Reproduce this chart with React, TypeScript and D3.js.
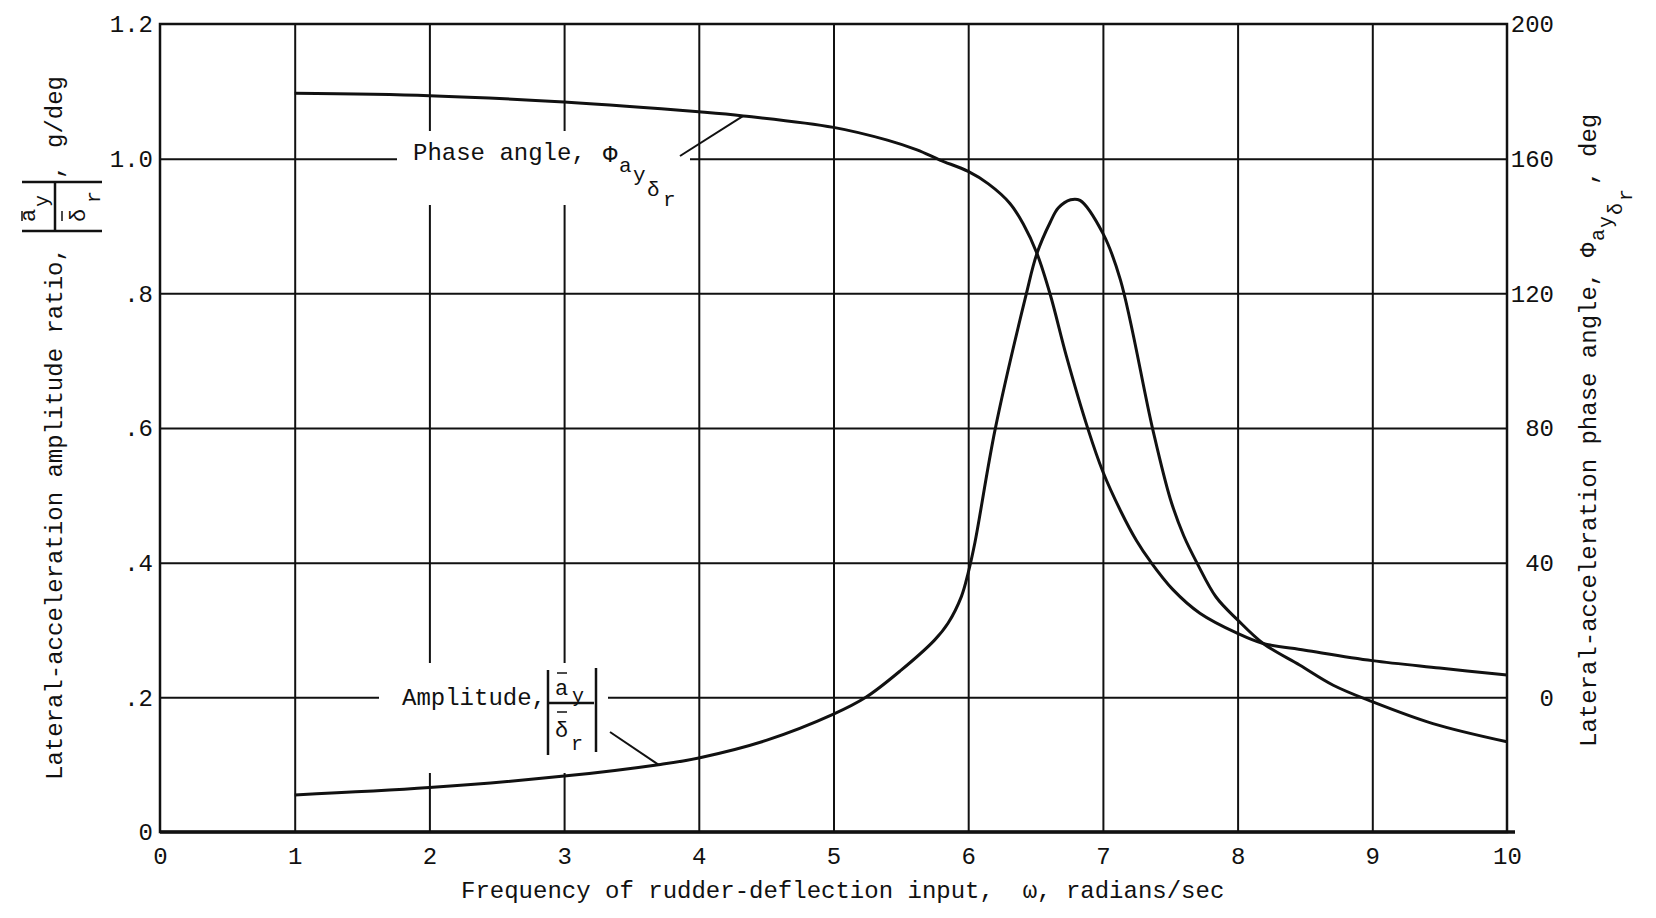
import { useEffect, useRef } from 'react';
import * as d3 from 'd3';

// frequency of rudder-deflection input, radians/sec
const omegaTicks = [0, 1, 2, 3, 4, 5, 6, 7, 8, 9, 10];
const ampTicks = [0, 0.2, 0.4, 0.6, 0.8, 1.0, 1.2];
const ampTickLabels = ['0', '.2', '.4', '.6', '.8', '1.0', '1.2'];
const phaseTicks = [0, 40, 80, 120, 160, 200];

// amplitude ratio |ay/dr|, g/deg
const ampOmega = [1, 2, 3, 3.7, 4, 4.5, 5, 5.24, 5.5, 5.75, 5.85, 5.95, 6.0, 6.05, 6.2, 6.43, 6.51, 6.61, 6.67, 6.76, 6.83, 7.0, 7.13, 7.37, 7.5, 7.6, 7.7, 7.84, 8.0, 8.19, 8.46, 8.71, 9.0, 9.45, 10];
const ampValues = [0.055, 0.066, 0.083, 0.1, 0.11, 0.136, 0.175, 0.2, 0.24, 0.285, 0.31, 0.35, 0.385, 0.43, 0.598, 0.798, 0.859, 0.906, 0.927, 0.939, 0.938, 0.889, 0.82, 0.598, 0.495, 0.44, 0.399, 0.349, 0.315, 0.28, 0.248, 0.218, 0.1935, 0.161, 0.134];

// phase angle, deg
const phaseOmega = [1, 2, 3, 4, 4.33, 5, 5.4, 5.62, 5.79, 6.0, 6.15, 6.31, 6.41, 6.51, 6.61, 6.73, 6.89, 7.0, 7.13, 7.25, 7.35, 7.52, 7.72, 8.0, 8.19, 8.5, 9.0, 9.5, 10];
const phaseValues = [179.4, 178.7, 176.8, 173.9, 172.7, 169.3, 165.5, 162.6, 159.6, 156.2, 152.5, 146.7, 140.5, 131.9, 119.5, 101.2, 79.6, 67, 55.5, 46.5, 40.5, 32.0, 25.0, 19.0, 16.0, 14.0, 10.9, 8.7, 6.6];

export default function App() {
  const svgRef = useRef<SVGSVGElement>(null);

  useEffect(() => {
    if (!svgRef.current) return;

    const svg = d3.select(svgRef.current);
    svg.selectAll('*').remove();

    const width = 1656;
    const height = 918;
    const margin = { top: 24, right: 149, bottom: 86, left: 160 };
    const font = '"Liberation Mono", "DejaVu Sans Mono", monospace';
    const ink = '#111';
    const fs = 24;

    svg.attr('width', width).attr('height', height);
    svg.append('rect').attr('width', width).attr('height', height).attr('fill', '#fff');

    const x = d3.scaleLinear().domain([0, 10]).range([margin.left, width - margin.right]);
    const yAmp = d3.scaleLinear().domain([0, 1.2]).range([height - margin.bottom, margin.top]);
    const yPhase = d3.scaleLinear().domain([-40, 200]).range([height - margin.bottom, margin.top]);
    const plotH = height - margin.top - margin.bottom;
    const plotW = width - margin.left - margin.right;

    // grid
    svg
      .append('g')
      .attr('transform', `translate(0,${height - margin.bottom})`)
      .call(d3.axisBottom(x).tickValues(omegaTicks.slice(1, -1)).tickSize(-plotH).tickFormat(() => ''))
      .call((g) => g.select('.domain').remove())
      .selectAll('line')
      .attr('stroke', ink)
      .attr('stroke-width', 2);

    svg
      .append('g')
      .attr('transform', `translate(${margin.left},0)`)
      .call(d3.axisLeft(yAmp).tickValues(ampTicks.slice(1, -1)).tickSize(-plotW).tickFormat(() => ''))
      .call((g) => g.select('.domain').remove())
      .selectAll('line')
      .attr('stroke', ink)
      .attr('stroke-width', 2);

    // gaps in the grid behind the curve labels
    svg.append('rect').attr('x', 397).attr('y', 131).attr('width', 293).attr('height', 74).attr('fill', '#fff');
    svg.append('rect').attr('x', 379).attr('y', 663).attr('width', 229).attr('height', 110).attr('fill', '#fff');

    // curves
    const ampLine = d3
      .line<number>()
      .x((d, i) => x(ampOmega[i]))
      .y((d) => yAmp(d))
      .curve(d3.curveCatmullRom.alpha(0.5));
    const phaseLine = d3
      .line<number>()
      .x((d, i) => x(phaseOmega[i]))
      .y((d) => yPhase(d))
      .curve(d3.curveCatmullRom.alpha(0.5));

    svg.append('path').datum(ampValues).attr('fill', 'none').attr('stroke', ink).attr('stroke-width', 3).attr('d', ampLine);
    svg.append('path').datum(phaseValues).attr('fill', 'none').attr('stroke', ink).attr('stroke-width', 3).attr('d', phaseLine);

    // frame
    svg
      .append('rect')
      .attr('x', x(0))
      .attr('y', yAmp(1.2))
      .attr('width', plotW)
      .attr('height', plotH)
      .attr('fill', 'none')
      .attr('stroke', ink)
      .attr('stroke-width', 2.5);
    svg.append('line').attr('x1', x(0)).attr('x2', x(10) + 8).attr('y1', yAmp(0)).attr('y2', yAmp(0)).attr('stroke', ink).attr('stroke-width', 3.5);

    // tick labels
    const left = svg
      .append('g')
      .attr('transform', `translate(${margin.left},0)`)
      .call(d3.axisLeft(yAmp).tickValues(ampTicks).tickSize(0).tickPadding(7).tickFormat((d, i) => ampTickLabels[i]));
    left.select('.domain').remove();
    left.selectAll('text').attr('font-family', font).attr('font-size', fs).attr('fill', ink);

    const right = svg
      .append('g')
      .attr('transform', `translate(${width - margin.right},0)`)
      .call(d3.axisRight(yPhase).tickValues(phaseTicks).tickSize(0).tickPadding(47));
    right.select('.domain').remove();
    right.selectAll('text').attr('font-family', font).attr('font-size', fs).attr('fill', ink).attr('text-anchor', 'end');

    const bottom = svg
      .append('g')
      .attr('transform', `translate(0,${height - margin.bottom})`)
      .call(d3.axisBottom(x).tickValues(omegaTicks).tickSize(0).tickPadding(15));
    bottom.select('.domain').remove();
    bottom.selectAll('text').attr('font-family', font).attr('font-size', fs).attr('fill', ink);

    const txt = (g: any, s: string, tx: number, ty: number, size = fs) =>
      g
        .append('text')
        .attr('x', tx)
        .attr('y', ty)
        .attr('font-family', font)
        .attr('font-size', size)
        .attr('fill', ink)
        .style('white-space', 'pre')
        .text(s);
    const seg = (g: any, x1: number, y1: number, x2: number, y2: number, w = 2) =>
      g.append('line').attr('x1', x1).attr('y1', y1).attr('x2', x2).attr('y2', y2).attr('stroke', ink).attr('stroke-width', w);

    txt(svg, 'Frequency of rudder-deflection input,  \u03c9, radians/sec', 461, 898);

    // phase label
    txt(svg, 'Phase angle,', 413, 160);
    txt(svg, '\u03a6', 603, 162);
    txt(svg, 'a', 619, 172, 21);
    txt(svg, 'y', 633, 181, 21);
    txt(svg, '\u03b4', 647, 196, 21);
    txt(svg, 'r', 663, 206, 21);
    seg(svg, 680, 156, x(4.33), yPhase(172.7), 2);

    // amplitude label
    txt(svg, 'Amplitude,', 402, 705);
    seg(svg, 548, 670, 548, 755, 2.5);
    seg(svg, 596, 668, 596, 752, 2.5);
    seg(svg, 548, 703, 594, 703, 2.5);
    txt(svg, 'a', 555, 695, 22);
    seg(svg, 557, 673, 567, 673, 1.5);
    txt(svg, 'y', 572, 702, 20);
    txt(svg, '\u03b4', 555, 737, 22);
    seg(svg, 557, 712, 567, 712, 1.5);
    txt(svg, 'r', 571, 750, 20);
    seg(svg, 610, 732, x(3.7), yAmp(0.1), 2);

    // left axis title
    const lt = svg.append('g').attr('transform', 'translate(62,780) rotate(-90)');
    txt(lt, 'Lateral-acceleration amplitude ratio,', 0, 0);
    seg(lt, 549, -40, 549, 40, 2.5);
    seg(lt, 598, -40, 598, 40, 2.5);
    seg(lt, 549, -7, 598, -7, 2.5);
    txt(lt, 'a', 558, -27, 22);
    seg(lt, 559, -40, 569, -40, 1.5);
    txt(lt, 'y', 573, -14, 20);
    txt(lt, '\u03b4', 558, 23, 22);
    seg(lt, 559, 0, 569, 0, 1.5);
    txt(lt, 'r', 577, 38, 20);
    txt(lt, ',', 601, 0);
    txt(lt, 'g/deg', 632, 0);

    // right axis title
    const rt = svg.append('g').attr('transform', 'translate(1596,747) rotate(-90)');
    txt(rt, 'Lateral-acceleration phase angle,', 0, 0);
    txt(rt, '\u03a6', 490, 0);
    txt(rt, 'a', 506, 8, 20);
    txt(rt, 'y', 519, 16, 20);
    txt(rt, '\u03b4', 532, 26, 20);
    txt(rt, 'r', 546, 36, 20);
    txt(rt, ',', 562, 0);
    txt(rt, 'deg', 590, 0);
  }, []);

  return <svg ref={svgRef} style={{ position: 'absolute', left: 0, top: 0, display: 'block' }} />;
}
